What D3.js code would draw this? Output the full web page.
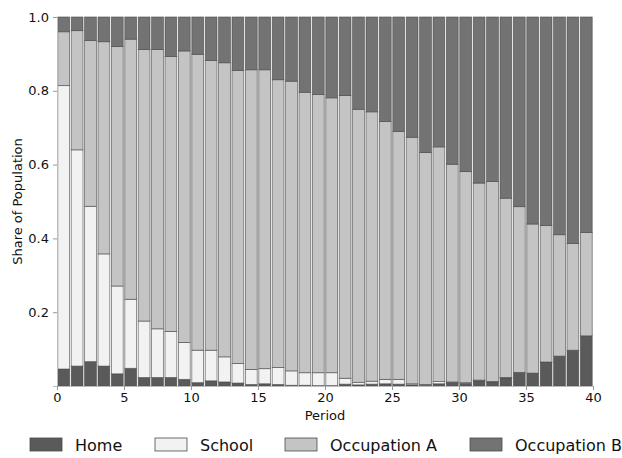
<!DOCTYPE html>
<html>
<head>
<meta charset="utf-8">
<script src="https://cdn.jsdelivr.net/npm/d3@7"></script>
<style>
  html, body { margin: 0; padding: 0; background: #fff; }
  svg { display: block; font-family: "DejaVu Sans", sans-serif; }
</style>
</head>
<body>
<svg id="chart" width="622" height="458"></svg>
<script>
// Share of the population in each activity, by period (0..39)
const periods = d3.range(40);
const home = [0.046,0.054,0.066,0.054,0.033,0.048,0.023,0.023,0.023,0.018,
              0.009,0.014,0.011,0.008,0.004,0.006,0.004,0.002,0.002,0.001,
              0.001,0.005,0.003,0.005,0.006,0.005,0.003,0.002,0.006,0.009,
              0.007,0.014,0.011,0.022,0.037,0.035,0.065,0.081,0.097,0.136];
const school = [0.768,0.586,0.421,0.304,0.238,0.187,0.153,0.132,0.125,0.100,
                0.088,0.083,0.068,0.053,0.041,0.041,0.046,0.039,0.034,0.035,
                0.035,0.016,0.007,0.008,0.012,0.013,0.003,0.002,0.006,0.002,
                0.002,0.002,0.001,0.001,0.000,0.000,0.000,0.000,0.000,0.000];
const occA = [0.146,0.323,0.449,0.575,0.649,0.705,0.736,0.757,0.745,0.790,
              0.802,0.785,0.797,0.794,0.812,0.810,0.780,0.785,0.760,0.754,
              0.745,0.766,0.740,0.730,0.699,0.672,0.668,0.629,0.636,0.590,
              0.572,0.534,0.542,0.486,0.449,0.404,0.370,0.329,0.289,0.280];
const occB = [0.040,0.037,0.064,0.067,0.080,0.060,0.088,0.088,0.107,0.092,
              0.101,0.118,0.124,0.145,0.143,0.143,0.170,0.174,0.204,0.210,
              0.219,0.213,0.250,0.257,0.283,0.310,0.326,0.367,0.352,0.399,
              0.419,0.450,0.446,0.491,0.514,0.561,0.565,0.590,0.614,0.584];

const seriesNames = ["Home", "School", "Occupation A", "Occupation B"];
const seriesColors = ["#5a5a5a", "#f2f2f2", "#c4c4c4", "#737373"];
const yTicks = [0.2, 0.4, 0.6, 0.8, 1.0];
const xTicks = [0, 5, 10, 15, 20, 25, 30, 35, 40];

const rows = periods.map(i => ({
  period: i,
  "Home": home[i], "School": school[i],
  "Occupation A": occA[i], "Occupation B": occB[i]
}));

const svg = d3.select("#chart");
const m = { left: 57, right: 593, top: 17, bottom: 386 };

const x = d3.scaleLinear().domain([0, 40]).range([m.left, m.right]);
const y = d3.scaleLinear().domain([0, 1]).range([m.bottom, m.top]);
const color = d3.scaleOrdinal().domain(seriesNames).range(seriesColors);

const stacked = d3.stack().keys(seriesNames)(rows);

// stacked bars, each spanning [i, i+1) on the period axis
const layers = svg.append("g").selectAll("g")
  .data(stacked).join("g")
  .attr("fill", d => color(d.key));

layers.selectAll("rect")
  .data(d => d)
  .join("rect")
  .attr("x", d => x(d.data.period) + 0.8)
  .attr("width", d => x(d.data.period + 1) - x(d.data.period) - 1.6)
  .attr("y", d => y(d[1]))
  .attr("height", d => Math.max(0, y(d[0]) - y(d[1])))
  .attr("stroke", "#4a4a4a")
  .attr("stroke-opacity", 0.75)
  .attr("stroke-width", 0.8);

// axes
const yAxis = d3.axisLeft(y).tickValues(yTicks).tickFormat(d3.format(".1f")).tickSize(4).tickPadding(4);
const xAxis = d3.axisBottom(x).tickValues(xTicks).tickFormat(d3.format("d")).tickSize(4).tickPadding(3);

const gy = svg.append("g").attr("transform", `translate(${m.left},0)`).call(yAxis);
const gx = svg.append("g").attr("transform", `translate(0,${m.bottom})`).call(xAxis);

[gx, gy].forEach(g => {
  g.select(".domain").attr("stroke", "#bdbdbd").attr("stroke-width", 1);
  g.selectAll(".tick line").attr("stroke", "#999");
  g.selectAll(".tick text").attr("fill", "#111").style("font-size", "13px")
    .style("font-family", "'DejaVu Sans', sans-serif");
});

svg.append("text")
  .attr("x", (m.left + m.right) / 2).attr("y", 420)
  .attr("text-anchor", "middle")
  .style("font-size", "13px").attr("fill", "#111")
  .text("Period");

svg.append("text")
  .attr("transform", `translate(22,${(m.top + m.bottom) / 2}) rotate(-90)`)
  .attr("text-anchor", "middle")
  .style("font-size", "13px").attr("fill", "#111")
  .text("Share of Population");

// legend along the bottom
const legendX = [30, 155, 285, 470];
const legend = svg.append("g").selectAll("g")
  .data(seriesNames).join("g")
  .attr("transform", (d, i) => `translate(${legendX[i]},438)`);

legend.append("rect")
  .attr("width", 32).attr("height", 13)
  .attr("fill", d => color(d))
  .attr("stroke", "#4a4a4a").attr("stroke-width", 0.8);

legend.append("text")
  .attr("x", 45).attr("y", 12.5)
  .style("font-size", "16px").attr("fill", "#111")
  .text(d => d);
</script>
</body>
</html>
